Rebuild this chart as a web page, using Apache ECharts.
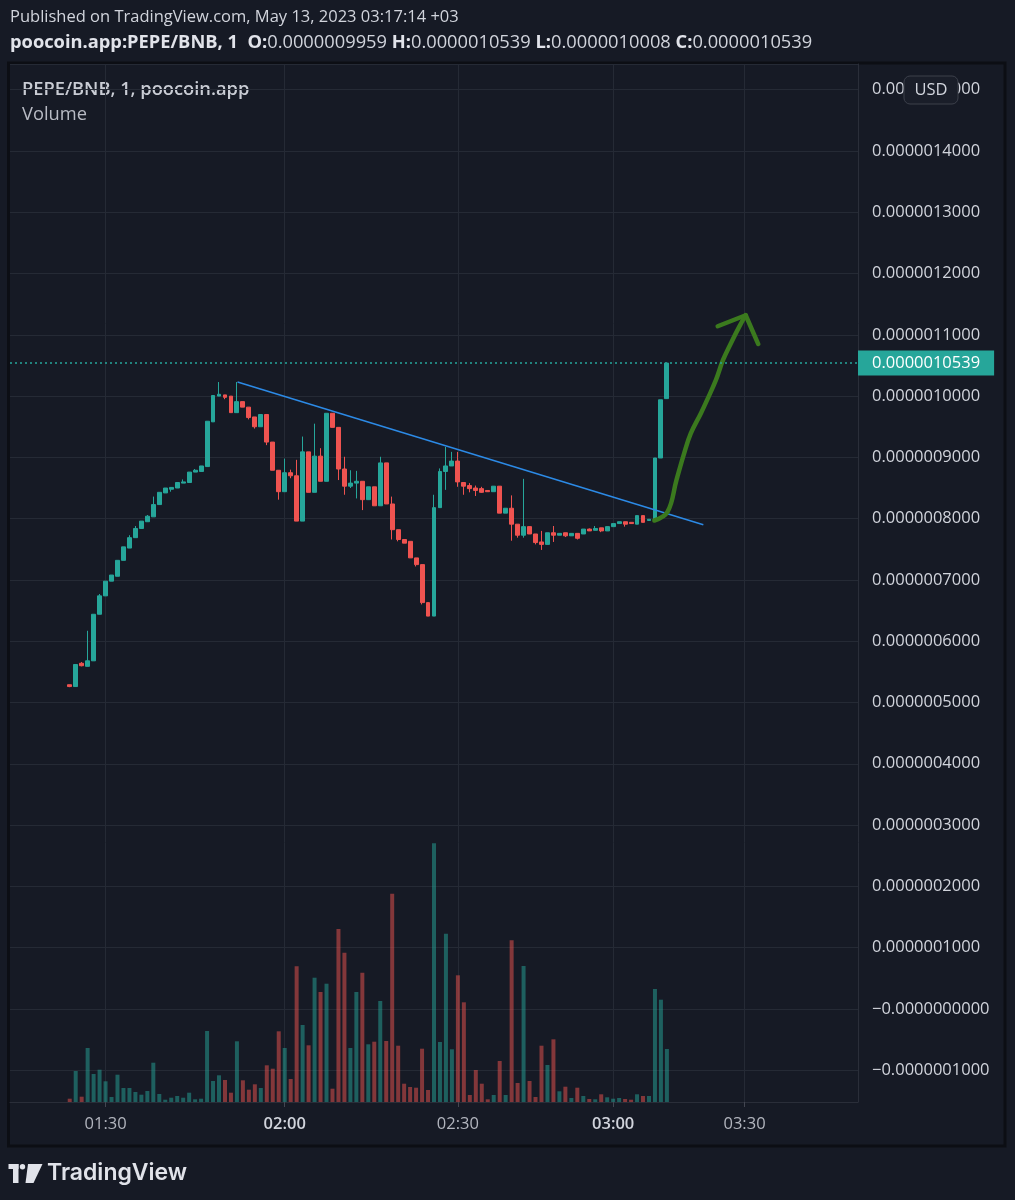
<!DOCTYPE html>
<html>
<head>
<meta charset="utf-8">
<title>PEPE/BNB, 1, poocoin.app</title>
<script src="https://cdn.jsdelivr.net/npm/echarts@6/dist/echarts.min.js"></script>
<style>
  html, body { margin: 0; padding: 0; background: #161a25; }
  #chart { width: 1015px; height: 1200px; }
</style>
</head>
<body>
<div id="chart"></div>
<script>
// empty minutes on the left, the real 1-minute bars, then the empty future space
const padTimes = ['01:14','01:15','01:16','01:17','01:18','01:19','01:20','01:21','01:22','01:23'];
const barTimes = [
  '01:24','01:25','01:26','01:27','01:28','01:29','01:30','01:31','01:32','01:33',
  '01:34','01:35','01:36','01:37','01:38','01:39','01:40','01:41','01:42','01:43',
  '01:44','01:45','01:46','01:47','01:48','01:49','01:50','01:51','01:52','01:53',
  '01:54','01:55','01:56','01:57','01:58','01:59','02:00','02:01','02:02','02:03',
  '02:04','02:05','02:06','02:07','02:08','02:09','02:10','02:11','02:12','02:13',
  '02:15','02:16','02:17','02:18','02:19','02:20','02:21','02:22','02:23','02:24',
  '02:25','02:26','02:27','02:28','02:29','02:30','02:31','02:32','02:33','02:34',
  '02:35','02:36','02:37','02:38','02:39','02:40','02:42','02:43','02:44','02:45',
  '02:46','02:48','02:49','02:50','02:51','02:53','02:54','02:55','02:57','02:58',
  '02:59','03:00','03:01','03:03','03:05','03:07','03:09','03:12','03:15','03:16',
  '03:17'
];
const futureTimes = [
  '03:18','03:19','03:20','03:21','03:22','03:23','03:24','03:25','03:26','03:27',
  '03:28','03:29','03:30','03:31','03:32','03:33','03:34','03:35','03:36','03:37',
  '03:38','03:39','03:40','03:41','03:42','03:43','03:44','03:45','03:46','03:47',
  '03:48','03:49'
];

// prices in units of 0.0000001 BNB
const open = [
  5.29,5.26,5.64,5.59,5.68,6.44,6.74,6.98,7.06,7.32, 7.52,7.69,7.84,7.95,8.03,8.23,8.42,8.48,8.50,8.58,
  8.59,8.76,8.77,8.85,9.58,10.00,10.02,10.00,9.73,9.91, 9.82,9.66,9.50,9.70,9.25,8.79,8.44,8.75,8.70,7.96,
  9.09,8.43,9.02,8.61,9.72,9.49,8.81,8.53,8.58,8.61, 8.31,8.52,8.21,8.91,8.24,7.82,7.66,7.63,7.36,7.25,
  6.63,6.41,8.18,8.77,8.86,8.94,8.59,8.54,8.50,8.49, 8.46,8.44,8.53,8.09,8.17,7.91,7.73,7.87,7.75,7.62,
  7.58,7.77,7.73,7.77,7.72,7.76,7.75,7.83,7.81,7.85, 7.80,7.87,7.92,7.95,7.94,7.91,8.05,7.97,7.97,8.99,
  9.959
];
const close = [
  5.26,5.62,5.60,5.68,6.44,6.74,6.98,7.08,7.32,7.54, 7.69,7.84,7.96,8.04,8.23,8.43,8.50,8.51,8.59,8.60,
  8.76,8.79,8.86,9.59,10.01,10.03,9.98,9.73,9.91,9.82, 9.65,9.50,9.70,9.25,8.79,8.44,8.75,8.70,7.96,9.09,
  8.43,9.02,8.61,9.72,9.49,8.81,8.53,8.58,8.61,8.31, 8.52,8.21,8.91,8.24,7.82,7.66,7.60,7.36,7.25,6.63,
  6.41,8.18,8.77,8.86,8.94,8.60,8.53,8.49,8.46,8.43, 8.44,8.53,8.09,8.17,7.91,7.73,7.87,7.75,7.61,7.58,
  7.77,7.73,7.76,7.72,7.76,7.68,7.83,7.80,7.84,7.80, 7.87,7.92,7.95,7.91,7.92,8.05,7.94,7.99,8.99,9.94,
  10.539
];
const low = [
  5.25,5.26,5.59,5.59,5.68,6.44,6.74,6.98,7.06,7.32, 7.52,7.69,7.84,7.95,8.03,8.23,8.42,8.44,8.50,8.58,
  8.59,8.76,8.77,8.85,9.58,10.00,9.95,9.73,9.73,9.82, 9.62,9.47,9.50,9.20,8.79,8.31,8.44,8.66,7.96,7.96,
  8.43,8.43,8.61,8.61,9.49,8.63,8.39,8.50,8.33,8.14, 8.31,8.21,8.21,8.24,7.66,7.63,7.60,7.36,7.22,6.60,
  6.41,6.41,8.18,8.47,8.86,8.52,8.39,8.43,8.37,8.42, 8.44,8.44,8.09,8.09,7.64,7.69,7.69,7.75,7.58,7.49,
  7.58,7.62,7.73,7.70,7.72,7.66,7.75,7.80,7.81,7.78, 7.80,7.87,7.92,7.87,7.92,7.91,7.94,7.97,7.97,8.99,
  10.008
];
const high = [
  5.29,5.62,5.66,6.17,6.44,6.77,6.98,7.08,7.32,7.54, 7.73,7.88,7.96,8.06,8.36,8.43,8.50,8.51,8.59,8.64,
  8.76,8.81,8.86,9.59,10.01,10.23,10.02,10.00,10.23,9.91, 9.82,9.66,9.70,9.70,9.25,8.79,8.98,8.80,8.96,9.34,
  9.09,9.55,9.15,9.72,9.72,9.49,9.01,8.79,8.78,8.61, 8.52,8.52,9.01,8.91,8.36,7.82,7.66,7.63,7.36,7.25,
  6.63,8.39,8.82,9.17,9.09,9.09,8.59,8.58,8.54,8.52, 8.46,8.53,8.53,8.17,8.38,7.91,8.65,7.87,7.75,7.80,
  7.77,7.88,7.76,7.77,7.76,7.76,7.83,7.84,7.88,7.85, 7.87,7.92,7.95,7.95,7.94,8.05,8.05,7.99,8.99,9.94,
  10.539
];
// volume, relative units (scale is hidden on the chart)
const volume = [
  3.3,31,5.3,54,28,32.3,20.7,5,27.3,14, 14,10,7.3,11,39.3,8,2.3,4.3,6,4.3,
  9.3,2.7,3.3,71,21,26.7,22,9.3,60.7,21.7, 12.3,17.7,14,36.7,33.3,70.7,54,23,135.7,77,
  56.7,124.3,110,118.3,13.3,173,149.3,54,110,129.3, 57.7,60.3,101,61,208.3,56.3,18.3,15,14.3,53.3,
  12,258.7,60,168.3,52.7,126.7,99.7,7,32,18.3, 2.7,7,41,7,161.7,19,136,21,5,56.3,
  37,62.7,10.7,15.3,4,14.3,6,3,2.7,7.7, 4.7,3.3,4,3,2.3,7.7,6,6,113,102.3,
  53
];

// hand drawn annotations: [bar index, price]
const trendLine = [[28.1, 10.23], [106.1, 7.90]];
const arrowPath = [
  [97.9, 7.97], [100.1, 8.11], [101.6, 8.63], [102.9, 9.07], [104.0, 9.39], [105.7, 9.72],
  [106.7, 9.93], [108.2, 10.26], [109.4, 10.59], [110.7, 10.86], [112.1, 11.13], [113.2, 11.32]
];
const arrowHead = [[108.5, 11.14], [113.2, 11.32], [115.3, 10.85]];

const UP = '#26a69a';
const DOWN = '#ef5350';
const FONT = 'Open Sans';

const categories = padTimes.concat(barTimes, futureTimes);
const PAD = padTimes.length;
const last = barTimes.length - 1;

function fmtPrice(v) {
  const s = (Math.abs(v) * 1e-7).toFixed(10);
  return v <= 0 ? '\u2212' + s : s;
}
const isTick = (i, v) => v.endsWith(':00') || v.endsWith(':30');

const source = barTimes.map((t, i) => [t, open[i], close[i], low[i], high[i], volume[i]]);

const chart = echarts.init(document.getElementById('chart'));

const option = {
  backgroundColor: '#161a25',
  animation: false,
  textStyle: { fontFamily: FONT },
  dataset: { source: source },
  grid: { left: 10, right: 157, top: 64, bottom: 98 },
  xAxis: [
    {
      type: 'category',
      data: categories,
      boundaryGap: false,
      axisLine: { onZero: false, lineStyle: { color: '#2a2e39', width: 1 } },
      axisTick: { interval: isTick, length: 5, lineStyle: { color: '#434651' } },
      axisLabel: {
        interval: isTick,
        margin: 14,
        color: '#b2b5be',
        fontSize: 16.5,
        fontFamily: FONT,
        formatter: v => v.endsWith(':00') ? '{h|' + v + '}' : v,
        rich: { h: { fontWeight: 600, color: '#d1d4dc', fontSize: 16.5, fontFamily: FONT } }
      },
      splitLine: { show: true, interval: isTick, lineStyle: { color: '#252a35' } }
    },
    {
      type: 'value',
      min: -PAD,
      max: categories.length - 1 - PAD,
      show: false
    }
  ],
  yAxis: [
    {
      type: 'value',
      position: 'right',
      min: -1.52,
      max: 15.42,
      splitNumber: 17,
      minInterval: 1,
      maxInterval: 1,
      axisLine: { show: true, onZero: false, lineStyle: { color: '#2a2e39' } },
      axisTick: { show: false },
      axisLabel: {
        margin: 14,
        color: '#d1d4dc',
        fontSize: 16.5,
        fontFamily: FONT,
        showMinLabel: false,
        showMaxLabel: false,
        formatter: fmtPrice
      },
      splitLine: { lineStyle: { color: '#252a35' } }
    },
    { type: 'value', min: 0, max: 1038, show: false, axisLine: { onZero: false } }
  ],
  series: [
    {
      name: 'Volume',
      type: 'bar',
      xAxisIndex: 0,
      yAxisIndex: 1,
      encode: { x: 0, y: 5 },
      barWidth: 4,
      itemStyle: {
        color: p => p.value[2] >= p.value[1] ? 'rgba(38,166,154,0.5)' : 'rgba(239,83,80,0.5)'
      }
    },
    {
      name: 'PEPE/BNB',
      type: 'candlestick',
      xAxisIndex: 0,
      yAxisIndex: 0,
      encode: { x: 0, y: [1, 2, 3, 4] },
      barWidth: 4.4,
      itemStyle: { color: UP, color0: DOWN, borderColor: UP, borderColor0: DOWN, borderWidth: 1 },
      markLine: {
        silent: true,
        symbol: ['none', 'none'],
        data: [{
          yAxis: close[last],
          lineStyle: { color: UP, type: [2, 3], width: 1.5 },
          label: {
            show: true,
            position: 'end',
            distance: 0,
            formatter: fmtPrice(close[last]),
            backgroundColor: UP,
            color: '#ffffff',
            fontSize: 16.5,
            fontFamily: FONT,
            padding: [4, 14, 4, 14]
          }
        }]
      }
    },
    {
      type: 'line',
      xAxisIndex: 1,
      yAxisIndex: 0,
      data: trendLine,
      symbol: 'none',
      lineStyle: { color: '#2c8ae6', width: 1.5 }
    },
    {
      type: 'line',
      xAxisIndex: 1,
      yAxisIndex: 0,
      data: arrowPath,
      smooth: 0.4,
      symbol: 'none',
      lineStyle: { color: '#3b7a1e', width: 4.5, cap: 'round', join: 'round' }
    },
    {
      type: 'line',
      xAxisIndex: 1,
      yAxisIndex: 0,
      data: arrowHead,
      symbol: 'none',
      lineStyle: { color: '#3b7a1e', width: 4.5, cap: 'round', join: 'round' }
    }
  ],
  graphic: [
    {
      type: 'rect',
      shape: { x: 8.5, y: 63, width: 996.5, height: 1083 },
      style: { fill: 'none', stroke: '#0c0e14', lineWidth: 3 },
      silent: true
    },
    {
      type: 'text', x: 10, y: 17,
      style: {
        text: 'Published on TradingView.com, May 13, 2023 03:17:14 +03',
        fill: '#d1d4dc', fontSize: 16.5, fontFamily: FONT, verticalAlign: 'middle'
      }
    },
    {
      type: 'text', x: 10, y: 43,
      style: {
        text: '{b|poocoin.app:PEPE/BNB, 1}  {b|O:}{n|' + fmtPrice(open[last]) + '} {b|H:}{n|' + fmtPrice(high[last]) +
              '} {b|L:}{n|' + fmtPrice(low[last]) + '} {b|C:}{n|' + fmtPrice(close[last]) + '}',
        fill: '#d1d4dc', fontSize: 18.3, fontFamily: FONT, verticalAlign: 'middle',
        rich: {
          b: { fontWeight: 'bold', fill: '#e1e3ea', fontSize: 18.3, fontFamily: FONT },
          n: { fill: '#d1d4dc', fontSize: 18.3, fontFamily: FONT }
        }
      }
    },
    {
      type: 'text', x: 22, y: 90,
      style: {
        text: 'PEPE/BNB, 1, poocoin.app',
        fill: '#c9ccd4', fontSize: 18.3, fontWeight: 600, fontFamily: FONT, verticalAlign: 'middle'
      }
    },
    {
      type: 'text', x: 22, y: 115,
      style: { text: 'Volume', fill: '#b8bbc4', fontSize: 18.3, fontFamily: FONT, verticalAlign: 'middle' }
    },
    {
      type: 'group', x: 904, y: 76, z: 100,
      children: [
        {
          type: 'rect', z: 100,
          shape: { x: 0, y: 0, width: 54, height: 28, r: 6 },
          style: { fill: '#1a1e29', stroke: '#3c404b', lineWidth: 1 }
        },
        {
          type: 'text', x: 27, y: 14, z: 101,
          style: { text: 'USD', fill: '#d1d4dc', fontSize: 16.5, fontFamily: FONT, align: 'center', verticalAlign: 'middle' }
        }
      ]
    },
    {
      type: 'group', x: 0, y: 0,
      children: [
        { type: 'rect', shape: { x: 8.5, y: 1164, width: 10, height: 5 }, style: { fill: '#e1e3ea' } },
        { type: 'rect', shape: { x: 13, y: 1164, width: 5.5, height: 19 }, style: { fill: '#e1e3ea' } },
        { type: 'circle', shape: { cx: 22.5, cy: 1166.7, r: 2.7 }, style: { fill: '#e1e3ea' } },
        { type: 'polygon', shape: { points: [[28, 1164], [42.5, 1164], [33.5, 1183], [25.5, 1183]] }, style: { fill: '#e1e3ea' } },
        {
          type: 'text', x: 47, y: 1173,
          style: { text: 'TradingView', fill: '#e1e3ea', fontSize: 23, fontWeight: 600, fontFamily: 'Inter', verticalAlign: 'middle' }
        }
      ]
    }
  ]
};

chart.setOption(option);
</script>
</body>
</html>
